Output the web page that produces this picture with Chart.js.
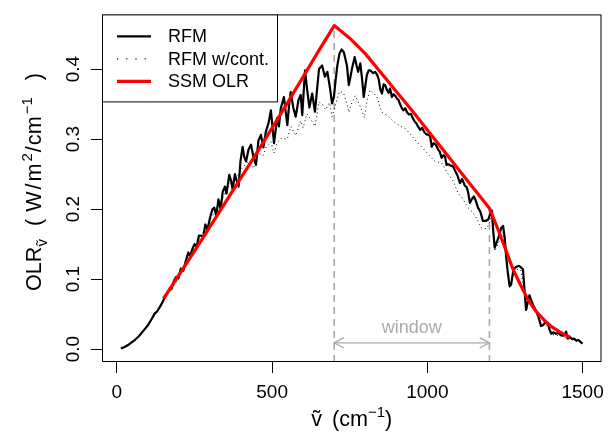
<!DOCTYPE html>
<html>
<head>
<meta charset="utf-8">
<script src="https://cdn.jsdelivr.net/npm/chart.js@4"></script>
<style>
  html, body { margin: 0; padding: 0; background: #fff; }
</style>
</head>
<body>
<canvas id="olrChart" width="612" height="437"></canvas>
<script>
// RFM spectrum (wavenumber cm-1, OLR W/m2/cm-1)
const rfmX = [13,25,40,55,70,85,100,112,122,130,138,146,152,160,168,176,184,191,198,206,214,222,230,236,243,250,257,264,271,278,285,292,300,308,314,320,327,334,341,348,353,362,368,373,380,386,392,398,405,410,416,424,432,440,448,456,464,472,480,488,496,501,506,516,522,528,538,544,549,555,560,568,576,585,592,597,606,613,620,629,638,645,651,661,670,678,686,693,699,704,710,717,724,731,741,747,752,757,766,772,777,784,790,795,800,805,811,816,826,832,838,843,849,854,859,864,870,875,880,886,891,896,902,907,912,917,923,929,935,941,947,953,958,965,970,977,983,990,996,1003,1009,1014,1020,1027,1035,1040,1046,1052,1057,1062,1068,1075,1083,1090,1097,1105,1112,1121,1126,1131,1137,1143,1150,1156,1163,1171,1179,1188,1196,1203,1208,1212,1217,1223,1228,1233,1238,1244,1249,1254,1259,1265,1270,1276,1282,1289,1295,1301,1308,1313,1318,1324,1329,1336,1343,1350,1358,1366,1372,1380,1388,1394,1399,1407,1414,1422,1430,1438,1444,1447,1452,1460,1467,1473,1480,1487,1494,1500];
const rfmY = [0.001,0.003,0.007,0.012,0.018,0.026,0.034,0.043,0.051,0.054,0.060,0.066,0.072,0.078,0.084,0.086,0.098,0.103,0.101,0.115,0.112,0.126,0.138,0.133,0.143,0.150,0.146,0.162,0.162,0.160,0.178,0.170,0.188,0.200,0.202,0.190,0.214,0.200,0.225,0.232,0.222,0.249,0.240,0.228,0.250,0.240,0.232,0.268,0.289,0.275,0.268,0.285,0.292,0.274,0.263,0.298,0.306,0.288,0.311,0.322,0.341,0.318,0.294,0.330,0.318,0.344,0.360,0.338,0.320,0.350,0.367,0.345,0.332,0.356,0.363,0.334,0.398,0.370,0.345,0.365,0.339,0.372,0.400,0.405,0.389,0.396,0.374,0.351,0.360,0.382,0.405,0.422,0.428,0.424,0.405,0.377,0.388,0.400,0.417,0.405,0.396,0.408,0.385,0.360,0.375,0.391,0.398,0.398,0.394,0.396,0.392,0.386,0.370,0.365,0.378,0.377,0.370,0.366,0.372,0.360,0.364,0.362,0.358,0.356,0.350,0.345,0.341,0.344,0.338,0.335,0.336,0.330,0.326,0.322,0.318,0.313,0.316,0.310,0.307,0.306,0.304,0.289,0.294,0.292,0.285,0.282,0.273,0.277,0.275,0.263,0.264,0.262,0.261,0.254,0.248,0.237,0.243,0.233,0.232,0.225,0.209,0.214,0.218,0.212,0.202,0.196,0.183,0.183,0.185,0.193,0.198,0.170,0.145,0.152,0.158,0.165,0.173,0.176,0.160,0.132,0.110,0.090,0.092,0.110,0.116,0.118,0.119,0.117,0.114,0.085,0.056,0.068,0.077,0.068,0.061,0.055,0.046,0.033,0.034,0.038,0.036,0.028,0.022,0.024,0.022,0.023,0.020,0.019,0.022,0.025,0.015,0.017,0.014,0.015,0.012,0.013,0.010,0.008];

// RFM with continuum
const contX = [13,50,100,150,200,250,300,340,362,380,398,410,424,440,456,470,482,496,506,516,530,549,560,576,592,600,612,625,638,651,662,672,685,693,705,717,730,741,747,757,768,780,790,797,806,816,826,838,848,856,870,886,900,915,929,945,966,985,1000,1009,1025,1046,1067,1083,1099,1115,1131,1145,1160,1174,1190,1200,1207,1217,1228,1238,1244,1254,1265,1276,1289,1301,1313,1318,1329,1350,1366,1380,1399,1430,1452,1473,1500];
const contY = [0.001,0.010,0.033,0.069,0.102,0.146,0.184,0.215,0.236,0.240,0.255,0.262,0.268,0.258,0.280,0.276,0.290,0.296,0.280,0.295,0.301,0.300,0.318,0.305,0.326,0.316,0.336,0.328,0.318,0.353,0.350,0.342,0.352,0.332,0.350,0.368,0.366,0.350,0.338,0.352,0.362,0.350,0.340,0.330,0.355,0.370,0.366,0.360,0.345,0.337,0.334,0.327,0.322,0.318,0.315,0.307,0.296,0.287,0.280,0.275,0.268,0.266,0.250,0.240,0.223,0.214,0.202,0.196,0.186,0.173,0.172,0.180,0.190,0.140,0.150,0.162,0.168,0.128,0.088,0.107,0.114,0.113,0.082,0.054,0.075,0.053,0.032,0.036,0.021,0.019,0.015,0.014,0.008];

// simple spectral model
const ssmX = [150,200,250,300,350,400,450,500,550,600,650,700,750,800,850,900,950,1000,1050,1100,1150,1200,1225,1250,1275,1300,1325,1350,1375,1400,1425,1450,1460];
const ssmY = [0.072,0.106,0.140,0.175,0.210,0.245,0.280,0.316,0.352,0.389,0.426,0.462,0.444,0.422,0.395,0.368,0.341,0.313,0.285,0.257,0.229,0.201,0.174,0.145,0.115,0.092,0.070,0.054,0.042,0.032,0.025,0.019,0.017];

const windowEdges = [700, 1200];
const arrowY = 0.009;
const xTicks = [0, 500, 1000, 1500];
const yTicks = [0, 0.1, 0.2, 0.3, 0.4];
const xRange = [-48, 1561];
const yRange = [-0.0184, 0.478];

const FONT_FAMILY = '"Liberation Sans", Arial, "DejaVu Sans", sans-serif';
const GREY = '#aaaaaa';
const LAB = 21.6, SUB = 15, TICK = 19;

const pts = (xs, ys) => xs.map((x, i) => ({ x: x, y: ys[i] }));
const ssmAt = x => ssmY[ssmX.indexOf(x)];

const datasets = [
  { label: 'SSM OLR', data: pts(ssmX, ssmY), borderColor: '#ff0000', borderWidth: 3.2, order: 1 },
  { label: 'RFM', data: pts(rfmX, rfmY), borderColor: '#000000', borderWidth: 2.2, order: 2 },
  { label: 'RFM w/cont.', data: pts(contX, contY), borderColor: '#000000', borderWidth: 1, borderDash: [1, 3], order: 3 }
];
windowEdges.forEach(e => {
  datasets.push({
    label: 'edge', data: [{ x: e, y: yRange[0] }, { x: e, y: ssmAt(e) }],
    borderColor: GREY, borderWidth: 1.6, borderDash: [7, 5], order: 4
  });
});
datasets.push({
  label: 'window', data: [{ x: windowEdges[0], y: arrowY }, { x: windowEdges[1], y: arrowY }],
  borderColor: GREY, borderWidth: 1.3, order: 5
});
datasets.forEach(d => { d.pointRadius = 0; d.fill = false; d.tension = 0; d.borderJoinStyle = 'round'; });

const legendItems = [
  { text: 'RFM', color: '#000', width: 2.2, dash: [] },
  { text: 'RFM w/cont.', color: '#000', width: 1.2, dash: [1.2, 8] },
  { text: 'SSM OLR', color: '#ff0000', width: 3.2, dash: [] }
];

function drawRich(ctx, parts, x0, y0) {
  let x = x0;
  parts.forEach(p => {
    if (p.gap) { x += p.gap; return; }
    ctx.font = p.size + 'px ' + FONT_FAMILY;
    ctx.fillText(p.t, x, y0 + (p.dy || 0));
    x += ctx.measureText(p.t).width;
  });
}
function richWidth(ctx, parts) {
  let w = 0;
  parts.forEach(p => {
    if (p.gap) { w += p.gap; return; }
    ctx.font = p.size + 'px ' + FONT_FAMILY;
    w += ctx.measureText(p.t).width;
  });
  return w;
}

const decor = {
  id: 'decor',
  afterDraw(chart) {
    const { ctx, chartArea: a, scales: { x, y } } = chart;
    ctx.save();
    ctx.fillStyle = '#000';
    ctx.strokeStyle = '#000';

    // plot box
    ctx.lineWidth = 1;
    ctx.strokeRect(a.left + 0.5, a.top + 0.5, a.right - a.left - 1, a.bottom - a.top - 1);

    // y tick labels, rotated like base R
    ctx.font = TICK + 'px ' + FONT_FAMILY;
    ctx.textAlign = 'center';
    ctx.textBaseline = 'alphabetic';
    y.ticks.forEach(t => {
      ctx.save();
      ctx.translate(a.left - 23, y.getPixelForValue(t.value));
      ctx.rotate(-Math.PI / 2);
      ctx.fillText(t.value.toFixed(1), 0, 0);
      ctx.restore();
    });

    // arrow heads on the window arrow
    const ay = y.getPixelForValue(arrowY);
    const ax0 = x.getPixelForValue(windowEdges[0]);
    const ax1 = x.getPixelForValue(windowEdges[1]);
    const hl = 11, ha = 28 * Math.PI / 180;
    ctx.strokeStyle = GREY;
    ctx.lineWidth = 1.3;
    ctx.beginPath();
    ctx.moveTo(ax0 + hl * Math.cos(ha), ay - hl * Math.sin(ha));
    ctx.lineTo(ax0, ay);
    ctx.lineTo(ax0 + hl * Math.cos(ha), ay + hl * Math.sin(ha));
    ctx.moveTo(ax1 - hl * Math.cos(ha), ay - hl * Math.sin(ha));
    ctx.lineTo(ax1, ay);
    ctx.lineTo(ax1 - hl * Math.cos(ha), ay + hl * Math.sin(ha));
    ctx.stroke();
    ctx.fillStyle = GREY;
    ctx.font = '18px ' + FONT_FAMILY;
    ctx.textAlign = 'center';
    ctx.textBaseline = 'middle';
    ctx.fillText('window', (ax0 + ax1) / 2, ay - 15);

    // legend
    const lx = a.left, ly = a.top, lw = 175, lh = 87;
    ctx.fillStyle = '#fff';
    ctx.fillRect(lx, ly, lw, lh);
    ctx.strokeStyle = '#000';
    ctx.lineWidth = 1;
    ctx.strokeRect(lx + 0.5, ly + 0.5, lw, lh);
    legendItems.forEach((it, i) => {
      const yy = ly + 22 + i * 22.5;
      ctx.beginPath();
      ctx.strokeStyle = it.color;
      ctx.lineWidth = it.width;
      ctx.setLineDash(it.dash);
      ctx.moveTo(lx + 15, yy);
      ctx.lineTo(lx + 49, yy);
      ctx.stroke();
      ctx.setLineDash([]);
      ctx.fillStyle = '#000';
      ctx.textAlign = 'left';
      ctx.textBaseline = 'middle';
      ctx.font = '18px ' + FONT_FAMILY;
      ctx.fillText(it.text, lx + 66, yy + 1);
    });

    // x axis title
    ctx.fillStyle = '#000';
    ctx.textAlign = 'left';
    ctx.textBaseline = 'alphabetic';
    const xParts = [
      { t: '\u1E7D', size: LAB }, { gap: 10 }, { t: '(cm', size: LAB },
      { t: '\u22121', size: SUB, dy: -9 }, { t: ')', size: LAB }
    ];
    const xw = richWidth(ctx, xParts);
    drawRich(ctx, xParts, (a.left + a.right) / 2 - xw / 2, 426);

    // y axis title
    const yParts = [
      { t: 'OLR', size: LAB }, { t: '\u1E7D', size: SUB, dy: 6 }, { gap: 13 },
      { t: '(', size: LAB }, { gap: 7 }, { t: 'W', size: LAB }, { gap: 2 }, { t: '/', size: LAB }, { gap: 2 },
      { t: 'm', size: LAB }, { gap: 2 }, { t: '2', size: SUB, dy: -9 }, { gap: 1 }, { t: '/', size: LAB }, { gap: 1 },
      { t: 'cm', size: LAB }, { gap: 2 }, { t: '\u22121', size: SUB, dy: -9 }, { gap: 17 }, { t: ')', size: LAB }
    ];
    const yw = richWidth(ctx, yParts);
    ctx.save();
    ctx.translate(41, 182 + yw / 2);
    ctx.rotate(-Math.PI / 2);
    drawRich(ctx, yParts, 0, 0);
    ctx.restore();

    ctx.restore();
  }
};

new Chart(document.getElementById('olrChart'), {
  type: 'line',
  data: { datasets: datasets },
  options: {
    responsive: false,
    animation: false,
    layout: { padding: { left: 0, top: 12, right: 8, bottom: 0 } },
    plugins: { legend: { display: false }, tooltip: { enabled: false } },
    scales: {
      x: {
        type: 'linear', min: xRange[0], max: xRange[1],
        afterBuildTicks: s => { s.ticks = xTicks.map(v => ({ value: v })); },
        afterFit: s => { s.height = 75; },
        grid: { drawOnChartArea: false, drawTicks: true, tickLength: 11, color: '#000', lineWidth: 1 },
        border: { display: false },
        ticks: { color: '#000', font: { family: FONT_FAMILY, size: TICK }, padding: 8, maxRotation: 0, minRotation: 0,
                 callback: v => String(v) }
      },
      y: {
        type: 'linear', min: yRange[0], max: yRange[1],
        afterBuildTicks: s => { s.ticks = yTicks.map(v => ({ value: v })); },
        afterFit: s => { s.width = 102; },
        grid: { drawOnChartArea: false, drawTicks: true, tickLength: 11, color: '#000', lineWidth: 1 },
        border: { display: false },
        ticks: { color: 'rgba(0,0,0,0)', font: { family: FONT_FAMILY, size: TICK } }
      }
    }
  },
  plugins: [decor]
});
</script>
</body>
</html>
